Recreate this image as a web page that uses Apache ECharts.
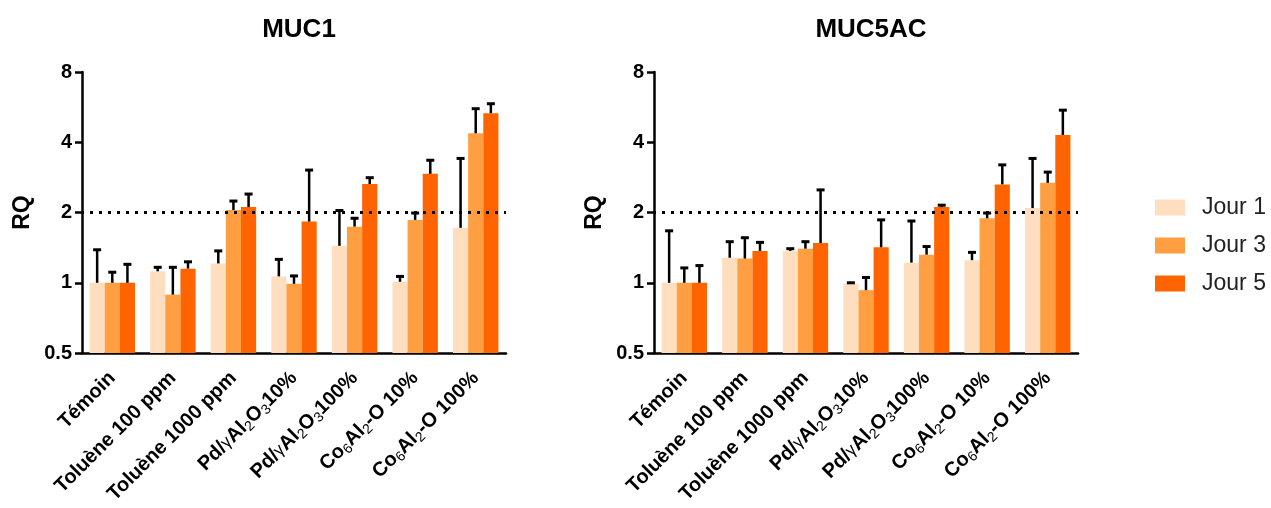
<!DOCTYPE html>
<html>
<head>
<meta charset="utf-8">
<script src="https://cdn.jsdelivr.net/npm/echarts@6/dist/echarts.min.js"></script>
<style>
html,body{margin:0;padding:0;background:#fff;}
#chart{width:1271px;height:508px;}
</style>
</head>
<body>
<div id="chart"></div>
<script>
// ---- data ----
const categories = ['Témoin', 'Toluène 100 ppm', 'Toluène 1000 ppm', 'Pd/γAl2O3 10%', 'Pd/γAl2O3 100%', 'Co6Al2-O 10%', 'Co6Al2-O 100%'];
const tickLabels = ['Témoin', 'Toluène 100 ppm', 'Toluène 1000 ppm', 'Pd/{g|γ}Al{s|2}O{s|3}10%', 'Pd/{g|γ}Al{s|2}O{s|3}100%', 'Co{s|6}Al{s|2}-O 10%', 'Co{s|6}Al{s|2}-O 100%'];
const seriesNames = ['Jour 1', 'Jour 3', 'Jour 5'];
const yTicks = [0.5, 1, 2, 4, 8];
const threshold = 2;

const muc1_j1 = [1.00, 1.12, 1.21, 1.065, 1.44, 1.01, 1.72];
const muc1_j1_top = [1.385, 1.165, 1.37, 1.26, 2.04, 1.065, 3.41];
const muc1_j3 = [1.00, 0.89, 2.05, 0.99, 1.74, 1.86, 4.37];
const muc1_j3_top = [1.11, 1.165, 2.24, 1.07, 1.89, 1.99, 5.57];
const muc1_j5 = [1.00, 1.15, 2.11, 1.83, 2.65, 2.93, 5.33];
const muc1_j5_top = [1.20, 1.23, 2.40, 3.04, 2.82, 3.35, 5.85];

const muc5_j1 = [1.00, 1.28, 1.37, 0.99, 1.22, 1.25, 2.09];
const muc5_j1_top = [1.67, 1.50, 1.40, 1.00, 1.84, 1.35, 3.41];
const muc5_j3 = [1.00, 1.27, 1.40, 0.93, 1.32, 1.89, 2.68];
const muc5_j3_top = [1.158, 1.56, 1.50, 1.054, 1.43, 1.99, 2.98];
const muc5_j5 = [1.00, 1.37, 1.48, 1.42, 2.11, 2.64, 4.30];
const muc5_j5_top = [1.185, 1.49, 2.50, 1.86, 2.15, 3.20, 5.49];

const colors = ['#FFDEC0', '#FF9F42', '#FF6400'];
// ---- end data ----

const FONT = '"Liberation Sans", Arial, sans-serif';
const CAT_GAP = 0.25;

const panels = [
  { title: 'MUC1', vals: [muc1_j1, muc1_j3, muc1_j5], tops: [muc1_j1_top, muc1_j3_top, muc1_j5_top], left: 82 },
  { title: 'MUC5AC', vals: [muc5_j1, muc5_j3, muc5_j5], tops: [muc5_j1_top, muc5_j3_top, muc5_j5_top], left: 654 }
];
const GRID_W = 424, GRID_TOP = 72, GRID_H = 284;

const option = {
  animation: false,
  backgroundColor: '#fff',
  textStyle: { fontFamily: FONT },
  title: panels.map(p => ({
    text: p.title,
    left: p.left + GRID_W / 2, top: 12, textAlign: 'center',
    textStyle: { fontFamily: FONT, fontSize: 26, fontWeight: 'bold', color: '#000' }
  })),
  legend: {
    data: seriesNames,
    orient: 'vertical',
    left: 1150, top: 191,
    itemWidth: 30, itemHeight: 16, itemGap: 15,
    icon: 'rect',
    textStyle: { fontFamily: FONT, fontSize: 23, color: '#222', padding: [0, 0, 0, 12] }
  },
  grid: panels.map(p => ({ left: p.left, top: GRID_TOP, width: GRID_W, height: GRID_H, containLabel: false })),
  xAxis: panels.map((p, i) => ({
    type: 'category', gridIndex: i, data: categories,
    axisLine: { lineStyle: { color: '#000', width: 2.5 } },
    axisTick: { alignWithLabel: true, length: 7, lineStyle: { color: '#000', width: 2.5 } },
    axisLabel: {
      interval: 0, rotate: 45, margin: 22,
      formatter: (v, idx) => tickLabels[idx],
      fontFamily: FONT, fontSize: 20, fontWeight: 'bold', color: '#000', lineHeight: 24,
      rich: {
        s: { fontFamily: FONT, fontSize: 14, fontWeight: 'normal', color: '#000', verticalAlign: 'bottom', lineHeight: 24, padding: [7, 0, 0, 0] },
        g: { fontFamily: FONT, fontSize: 17, fontWeight: 'normal', color: '#000', lineHeight: 24 }
      }
    }
  })),
  yAxis: panels.map((p, i) => ({
    type: 'log', logBase: 2, gridIndex: i, min: 0.5, max: 8, startValue: 0.5,
    name: 'RQ', nameLocation: 'middle', nameGap: 48, nameRotate: 90,
    nameTextStyle: { fontFamily: FONT, fontSize: 23, fontWeight: 'bold', color: '#000' },
    splitLine: { show: false },
    axisLine: { show: true, lineStyle: { color: '#000', width: 2.5 } },
    axisTick: { show: true, length: 7, lineStyle: { color: '#000', width: 2.5 } },
    axisLabel: {
      fontFamily: FONT, fontSize: 20, fontWeight: 'bold', color: '#000', margin: 10,
      formatter: v => { const t = yTicks.find(x => Math.abs(x - v) < 1e-6); return t === undefined ? '' : String(t); }
    }
  })),
  series: []
};

panels.forEach((p, pi) => {
  seriesNames.forEach((name, k) => {
    const s = {
      name, type: 'bar', xAxisIndex: pi, yAxisIndex: pi,
      data: p.vals[k], barGap: '0%', barCategoryGap: (CAT_GAP * 100) + '%',
      itemStyle: { color: colors[k] }, z: 2
    };
    if (k === 0) {
      s.markLine = {
        silent: true, symbol: 'none', label: { show: false },
        lineStyle: { color: '#000', type: [3, 6], dashOffset: -8, width: 3 },
        data: [{ yAxis: threshold }], z: 5
      };
    }
    option.series.push(s);
  });
  seriesNames.forEach((name, k) => {
    option.series.push({
      type: 'custom', xAxisIndex: pi, yAxisIndex: pi, z: 3,
      data: p.vals[k].map((v, i) => [i, v, p.tops[k][i]]),
      renderItem: (params, api) => {
        const base = api.coord([api.value(0), api.value(1)]);
        const top = api.coord([api.value(0), api.value(2)]);
        const band = api.size([1, 1])[0];
        const bw = band * (1 - CAT_GAP) / 3;
        const cx = base[0] + (k - 1) * bw;
        const cap = 8;
        return {
          type: 'group',
          children: [
            { type: 'line', shape: { x1: cx, y1: base[1], x2: cx, y2: top[1] }, style: { stroke: '#000', lineWidth: 2.5 } },
            { type: 'line', shape: { x1: cx - cap / 2, y1: top[1], x2: cx + cap / 2, y2: top[1] }, style: { stroke: '#000', lineWidth: 3 } }
          ]
        };
      }
    });
  });
});

const chart = echarts.init(document.getElementById('chart'), null, { renderer: 'canvas' });
chart.setOption(option);
</script>
</body>
</html>
